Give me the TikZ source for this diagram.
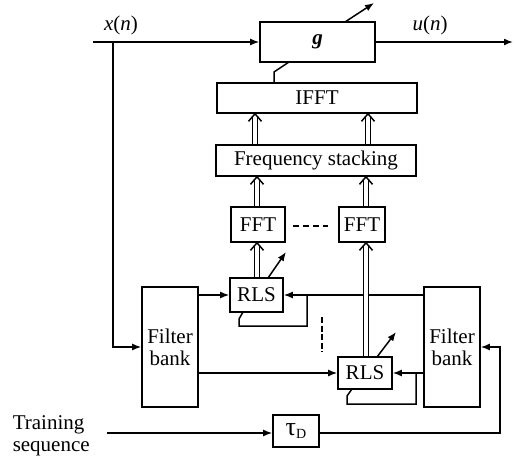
\documentclass[tikz,border=0pt]{standalone}
\usepackage{fontspec}
\setmainfont{Liberation Serif}
\usetikzlibrary{arrows.meta}
\begin{document}
\begin{tikzpicture}[x=1pt,y=-1pt,
  line width=1.5pt,
  box/.style={draw, line width=1.6pt, rectangle, inner sep=0pt,
    font=\fontsize{21}{22}\selectfont},
  sig/.style={-{Latex[length=9pt,width=7pt]}},
  wide/.style={double, double distance=3.4pt, line width=1.4pt},
  pics/chev/.style={code={\draw[line width=1.5pt, line join=miter]
    (-6.5pt,-7.5pt) -- (0pt,0pt) -- (6.5pt,-7.5pt);}},
  lbl/.style={font=\fontsize{21}{22}\selectfont, inner sep=0pt}]
\useasboundingbox (0,0) rectangle (515,459);

% blocks
\node[box, minimum width=115pt, minimum height=40pt] (g) at (317.5,42) {\textbf{\textit{g}}};
\node[box, minimum width=200pt, minimum height=30pt] (ifft) at (317,98) {IFFT};
\node[box, minimum width=200pt, minimum height=31pt] (fs) at (316,160.5) {Frequency stacking};
\node[box, minimum width=54pt, minimum height=35pt] (fft1) at (258,224.5) {FFT};
\node[box, minimum width=46pt, minimum height=35pt] (fft2) at (362,224.5) {FFT};
\node[box, minimum width=53pt, minimum height=34pt] (rls1) at (256.5,295) {RLS};
\node[box, minimum width=54pt, minimum height=32pt] (rls2) at (365,373) {RLS};
\node[box, minimum width=56pt, minimum height=120pt, align=center] (fb1) at (170,347) {Filter\\bank};
\node[box, minimum width=56pt, minimum height=120pt, align=center] (fb2) at (452,347) {Filter\\bank};
\node[box, minimum width=46pt, minimum height=32pt] (tau) at (296,431)
  {\fontsize{26}{26}\selectfont τ\raisebox{-3pt}{\fontsize{14}{14}\selectfont D}};

% labels
\node[lbl] (xn) at (121,25) {\textit{x}(\textit{n})};
\node[lbl] (un) at (430,25) {\textit{u}(\textit{n})};
\node[lbl, anchor=west, align=left] (train) at (12,436)
  {\fontsize{21}{21}\selectfont Training\\sequence};

% signal path
\coordinate (xin) at (93,42);
\coordinate (xtap) at (113,42);
\coordinate (uout) at (513,42);
\draw[sig] (xin) -- (g.west);
\draw[sig] (g.east) -- (uout);
\draw[sig] (xtap) |- (fb1.west);

% coefficient transfer into g
\coordinate (gk1) at (274,72);
\coordinate (gk2) at (289,62);
\draw (ifft.north -| gk1) -- (gk1) -- (gk2);

% adjustable-gain arrows
\coordinate (ga) at (345,22);
\coordinate (gb) at (374,3);
\draw[sig] (ga) -- (gb);
\coordinate (ra1) at (268,278);
\coordinate (rb1) at (286,252);
\draw[sig] (ra1) -- (rb1);
\coordinate (ra2) at (377,357);
\coordinate (rb2) at (396,332);
\draw[sig] (ra2) -- (rb2);

% filter banks to RLS blocks
\draw[sig] (fb1.east |- rls1.west) -- (rls1.west);
\draw[sig] (fb2.west |- rls1.east) -- (rls1.east);
\draw[sig] (fb1.east |- rls2.west) -- (rls2.west);
\draw[sig] (fb2.west |- rls2.east) -- (rls2.east);

% error feedback loops
\coordinate (l1a) at (243,312);
\coordinate (l1b) at (239,319);
\coordinate (l1c) at (239,326);
\coordinate (l1d) at (307,326);
\coordinate (l1e) at (307,295);
\draw (l1a) -- (l1b) -- (l1c) -- (l1d) -- (l1e);
\coordinate (l2a) at (352,389);
\coordinate (l2b) at (347,396);
\coordinate (l2c) at (347,404);
\coordinate (l2d) at (416,404);
\coordinate (l2e) at (416,373);
\draw (l2a) -- (l2b) -- (l2c) -- (l2d) -- (l2e);

% training path
\coordinate (tin) at (107,433);
\coordinate (tc) at (500,433);
\draw[sig] (tin) -- (tau.west |- tin);
\draw[sig] (tau.east |- tin) -- (tc) |- (fb2.east);

% ellipsis marks
\coordinate (d1) at (293,226);
\coordinate (d2) at (328,226);
\draw[dash pattern=on 6pt off 4pt] (d1) -- (d2);
\coordinate (v1) at (322,317);
\coordinate (v2) at (322,352);
\draw[dash pattern=on 6pt off 2.5pt] (v1) -- (v2);

% vector paths (double line with open chevron head)
\draw[wide] (rls1.north -| 257,0) -- ([yshift=-3pt]fft1.south -| 257,0);
\pic at (fft1.south -| 257,0) {chev};
\draw[wide] (fft1.north -| 257,0) -- ([yshift=-3pt]fs.south -| 257,0);
\pic at (fs.south -| 257,0) {chev};
\draw[wide] (fs.north -| 255,0) -- ([yshift=-3pt]ifft.south -| 255,0);
\pic at (ifft.south -| 255,0) {chev};
\draw[wide] (rls2.north -| 366,0) -- ([yshift=-3pt]fft2.south -| 366,0);
\pic at (fft2.south -| 366,0) {chev};
\draw[wide] (fft2.north -| 366,0) -- ([yshift=-3pt]fs.south -| 366,0);
\pic at (fs.south -| 366,0) {chev};
\draw[wide] (fs.north -| 368,0) -- ([yshift=-3pt]ifft.south -| 368,0);
\pic at (ifft.south -| 368,0) {chev};
\end{tikzpicture}
\end{document}
